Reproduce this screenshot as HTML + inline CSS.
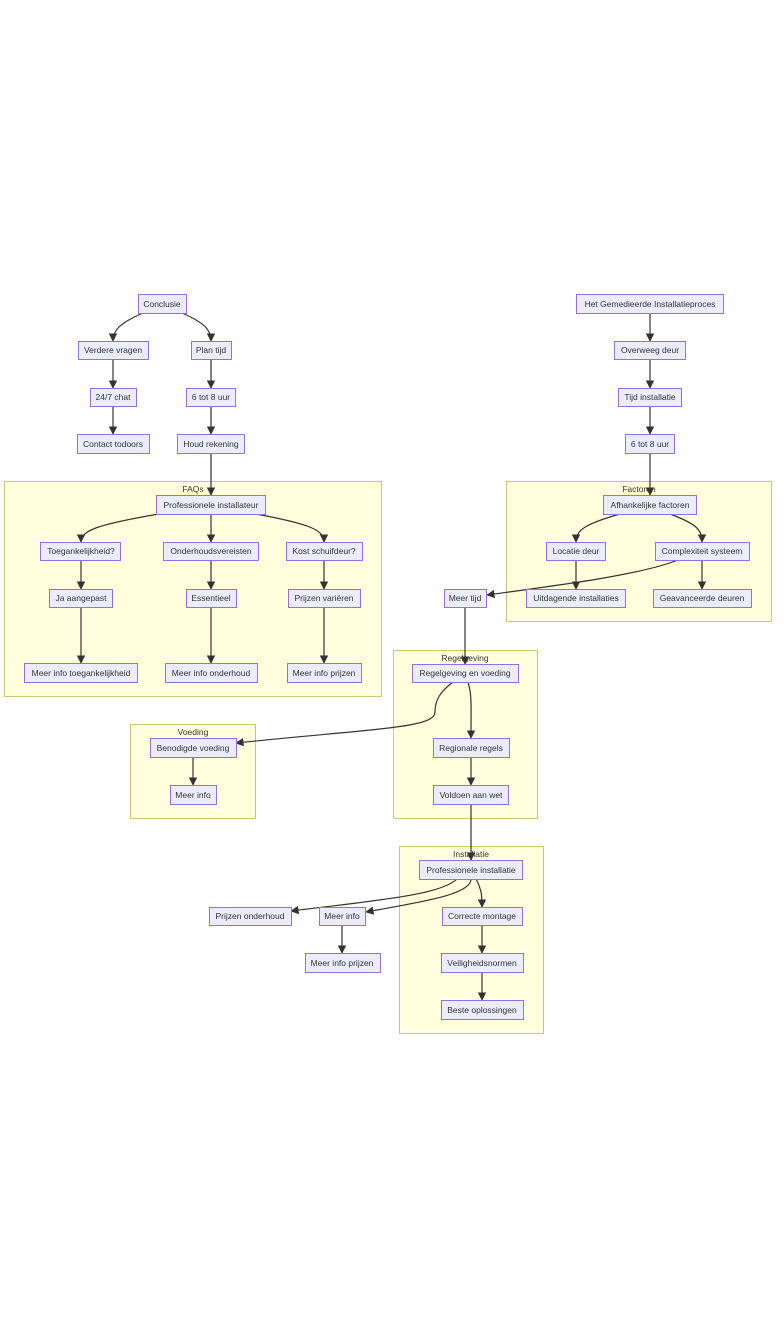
<!DOCTYPE html>
<html><head><meta charset="utf-8"><style>
html,body{margin:0;padding:0;background:#fff;width:784px;height:1328px;overflow:hidden}
svg text{font-family:"Liberation Sans",Arial,sans-serif;font-size:8.5px;fill:#333;text-anchor:middle;dominant-baseline:central}
.n{fill:#ececff;stroke:#9370db;stroke-width:1}
.c{fill:#ffffde;stroke:#c8c878;stroke-width:1}
.e{fill:none;stroke:#333;stroke-width:1.2}
</style></head><body>
<svg width="784" height="1328" viewBox="0 0 784 1328">
<defs><marker id="a" viewBox="0 0 10 10" refX="9" refY="5" markerWidth="7" markerHeight="7" orient="auto"><path d="M0,0L10,5L0,10z" fill="#333"/></marker></defs>
<!-- clusters -->
<rect class="c" x="4.5" y="481.5" width="377" height="215"/><text x="193" y="489">FAQs</text>
<rect class="c" x="506.5" y="481.5" width="265" height="140"/><text x="639" y="489">Factoren</text>
<rect class="c" x="393.5" y="650.5" width="144" height="168"/><text x="465" y="658">Regelgeving</text>
<rect class="c" x="130.5" y="724.5" width="125" height="94"/><text x="193" y="732">Voeding</text>
<rect class="c" x="399.5" y="846.5" width="144" height="187"/><text x="471" y="854">Installatie</text>
<!-- edges -->
<g class="e" marker-end="url(#a)">
<path d="M143,313 C120,323 113,330 113,341"/>
<path d="M182,313 C205,323 211,330 211,341"/>
<path d="M113,359 V388"/><path d="M211,359 V388"/>
<path d="M113,406 V434"/><path d="M211,406 V434"/>
<path d="M211,453 V495"/>
<path d="M159,514 C100,524 81,530 81,542"/>
<path d="M211,514 V542"/>
<path d="M256,514 C310,524 324,530 324,542"/>
<path d="M81,560 V589"/><path d="M211,560 V589"/><path d="M324,560 V589"/>
<path d="M81,607 V663"/><path d="M211,607 V663"/><path d="M324,607 V663"/>
<path d="M650,313 V341"/><path d="M650,359 V388"/><path d="M650,406 V434"/><path d="M650,453 V495"/>
<path d="M620,514 C585,524 576,530 576,542"/>
<path d="M670,514 C697,524 702,530 702,542"/>
<path d="M576,560 V589"/><path d="M702,560 V589"/>
<path d="M678,560 C640,575 560,585 487,595"/>
<path d="M465,607 V664"/>
<path d="M453,682 C440,692 435,700 435,712 C435,728 380,728 236,743"/>
<path d="M468,682 C472,695 471,705 471,738"/>
<path d="M193,757 V785"/>
<path d="M471,757 V785"/>
<path d="M471,804 V860"/>
<path d="M457,879 C440,895 380,900 291,911"/>
<path d="M471,879 C471,895 420,902 366,912"/>
<path d="M476,879 C482,890 482,897 482,907"/>
<path d="M342,925 V953"/>
<path d="M482,925 V953"/><path d="M482,972 V1000"/>
</g>
<!-- nodes -->
<g>
<rect class="n" x="138.5" y="294.5" width="48" height="19"/><text x="162" y="304">Conclusie</text>
<rect class="n" x="78.5" y="341.5" width="70" height="18"/><text x="113" y="350">Verdere vragen</text>
<rect class="n" x="191.5" y="341.5" width="40" height="18"/><text x="211" y="350">Plan tijd</text>
<rect class="n" x="90.5" y="388.5" width="46" height="18"/><text x="113" y="397">24/7 chat</text>
<rect class="n" x="186.5" y="388.5" width="49" height="18"/><text x="211" y="397">6 tot 8 uur</text>
<rect class="n" x="77.5" y="434.5" width="72" height="19"/><text x="113" y="444">Contact todoors</text>
<rect class="n" x="177.5" y="434.5" width="67" height="19"/><text x="211" y="444">Houd rekening</text>
<rect class="n" x="156.5" y="495.5" width="109" height="19"/><text x="211" y="505">Professionele installateur</text>
<rect class="n" x="40.5" y="542.5" width="80" height="18"/><text x="81" y="551">Toegankelijkheid?</text>
<rect class="n" x="163.5" y="542.5" width="95" height="18"/><text x="211" y="551">Onderhoudsvereisten</text>
<rect class="n" x="286.5" y="542.5" width="76" height="18"/><text x="324" y="551">Kost schuifdeur?</text>
<rect class="n" x="49.5" y="589.5" width="63" height="18"/><text x="81" y="598">Ja aangepast</text>
<rect class="n" x="186.5" y="589.5" width="50" height="18"/><text x="211" y="598">Essentieel</text>
<rect class="n" x="288.5" y="589.5" width="72" height="18"/><text x="324" y="598">Prijzen variëren</text>
<rect class="n" x="24.5" y="663.5" width="113" height="19"/><text x="81" y="673">Meer info toegankelijkheid</text>
<rect class="n" x="165.5" y="663.5" width="92" height="19"/><text x="211" y="673">Meer info onderhoud</text>
<rect class="n" x="287.5" y="663.5" width="74" height="19"/><text x="324" y="673">Meer info prijzen</text>

<rect class="n" x="576.5" y="294.5" width="147" height="19"/><text x="650" y="304">Het Gemedieerde Installatieproces</text>
<rect class="n" x="614.5" y="341.5" width="71" height="18"/><text x="650" y="350">Overweeg deur</text>
<rect class="n" x="618.5" y="388.5" width="63" height="18"/><text x="650" y="397">Tijd installatie</text>
<rect class="n" x="625.5" y="434.5" width="49" height="19"/><text x="650" y="444">6 tot 8 uur</text>
<rect class="n" x="603.5" y="495.5" width="93" height="19"/><text x="650" y="505">Afhankelijke factoren</text>
<rect class="n" x="546.5" y="542.5" width="59" height="18"/><text x="576" y="551">Locatie deur</text>
<rect class="n" x="655.5" y="542.5" width="94" height="18"/><text x="702" y="551">Complexiteit systeem</text>
<rect class="n" x="526.5" y="589.5" width="99" height="18"/><text x="576" y="598">Uitdagende installaties</text>
<rect class="n" x="653.5" y="589.5" width="98" height="18"/><text x="702" y="598">Geavanceerde deuren</text>
<rect class="n" x="444.5" y="589.5" width="42" height="18"/><text x="465" y="598">Meer tijd</text>
<rect class="n" x="412.5" y="664.5" width="106" height="18"/><text x="465" y="673">Regelgeving en voeding</text>
<rect class="n" x="433.5" y="738.5" width="76" height="19"/><text x="471" y="748">Regionale regels</text>
<rect class="n" x="433.5" y="785.5" width="75" height="19"/><text x="471" y="795">Voldoen aan wet</text>
<rect class="n" x="150.5" y="738.5" width="86" height="19"/><text x="193" y="748">Benodigde voeding</text>
<rect class="n" x="170.5" y="785.5" width="46" height="19"/><text x="193" y="795">Meer info</text>
<rect class="n" x="419.5" y="860.5" width="103" height="19"/><text x="471" y="870">Professionele installatie</text>
<rect class="n" x="209.5" y="907.5" width="82" height="18"/><text x="250" y="916">Prijzen onderhoud</text>
<rect class="n" x="319.5" y="907.5" width="46" height="18"/><text x="342" y="916">Meer info</text>
<rect class="n" x="442.5" y="907.5" width="80" height="18"/><text x="482" y="916">Correcte montage</text>
<rect class="n" x="305.5" y="953.5" width="75" height="19"/><text x="342" y="963">Meer info prijzen</text>
<rect class="n" x="441.5" y="953.5" width="82" height="19"/><text x="482" y="963">Veiligheidsnormen</text>
<rect class="n" x="441.5" y="1000.5" width="82" height="19"/><text x="482" y="1010">Beste oplossingen</text>
</g>
</svg>
</body></html>
